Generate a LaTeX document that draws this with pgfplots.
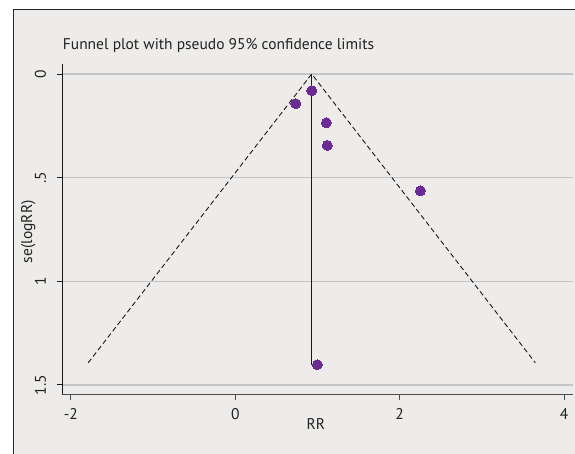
\documentclass[border=0pt]{standalone}
\usepackage{fontspec}
\setmainfont{PT Sans}
\usepackage{pgfplots}
\pgfplotsset{compat=1.18}
\definecolor{bgc}{RGB}{237,236,234}
\definecolor{dotc}{RGB}{106,44,146}
\definecolor{gridc}{RGB}{196,196,196}
\definecolor{txtc}{RGB}{34,34,34}
\begin{document}
\begin{tikzpicture}[x=1bp,y=1bp]
\useasboundingbox (0,0) rectangle (575,454);
\fill[white] (0,0) rectangle (575,454);
\fill[bgc] (13.3,0) rectangle (575,444.7);
\draw[black!85, line width=1.2bp] (13.3,0) -- (13.3,444.7) -- (575,444.7);
\begin{axis}[
  at={(62.3bp,59.7bp)}, anchor=south west,
  scale only axis, width=511bp, height=330bp,
  xmin=-2.105, xmax=4.112, ymin=-0.047, ymax=1.545,
  y dir=reverse,
  axis x line*=bottom, axis y line*=left,
  x axis line style={draw=black!70, line width=1.1bp, -},
  y axis line style={draw=black!90, line width=1bp, -},
  tick align=outside, major tick length=5.5bp,
  xtick={-2,0,2,4}, xticklabels={-2,0,2,4},
  ytick={0,0.5,1,1.5}, yticklabels={0,.5,1,1.5},
  x tick style={draw=black!70, line width=1bp},
  y tick style={draw=black!90, line width=1bp},
  xticklabel style={font=\fontsize{15.5bp}{18bp}\selectfont, text=txtc, anchor=base, inner sep=0pt, yshift=-20bp},
  yticklabel style={font=\fontsize{15.5bp}{18bp}\selectfont, text=txtc, xshift=-11bp, rotate=90, anchor=base, inner sep=0pt},
  ymajorgrids, grid style={draw=gridc, line width=1.2bp},
  xlabel={RR}, ylabel={se(logRR)},
  xlabel style={font=\fontsize{15.5bp}{18bp}\selectfont, text=txtc, at={(axis description cs:0.5,0)}, anchor=center, yshift=-30bp, xshift=-2bp},
  ylabel style={font=\fontsize{15.5bp}{18bp}\selectfont, text=txtc, at={(axis description cs:0,0.4927)}, anchor=center, yshift=34bp},
  clip=false,
]
\addplot[black!90, line width=0.9bp, dash pattern=on 5bp off 3bp] coordinates {(-1.79,1.393) (0.929,0) (3.65,1.393)};
\addplot[black!90, line width=1bp] coordinates {(0.929,0) (0.929,1.402)};
\addplot[only marks, mark=*, mark size=5bp, mark options={fill=dotc, draw=dotc, line width=0pt}] coordinates {
(0.735,0.143) (0.929,0.080) (1.107,0.235) (1.119,0.344) (2.251,0.563) (0.998,1.402)};
\end{axis}
\node[anchor=base west, inner sep=0pt, text=txtc, font=\fontsize{15.5bp}{18bp}\selectfont] at (62.7,404.7) {Funnel plot with pseudo 95\% confidence limits};
\end{tikzpicture}
\end{document}
